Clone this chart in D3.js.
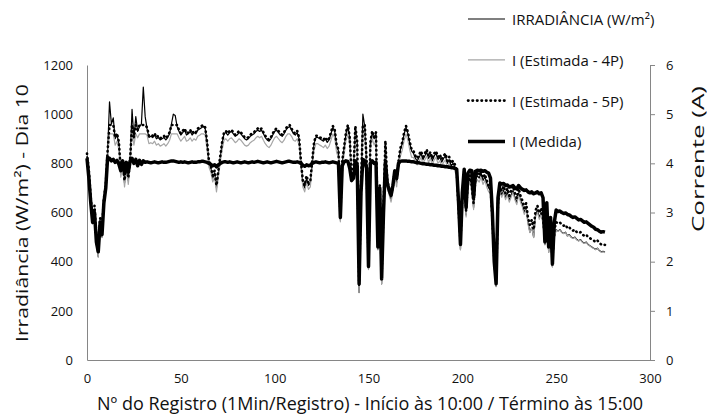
<!DOCTYPE html>
<html>
<head>
<meta charset="utf-8">
<script src="https://cdn.jsdelivr.net/npm/d3@7"></script>
<style>
  body { margin: 0; background: #fff; }
  svg text { font-family: "Open Sans", sans-serif; fill: #111; }
</style>
</head>
<body>
<svg id="chart" width="707" height="417"></svg>
<script>
// register number, 1 per minute
var registros = d3.range(0, 277);

// irradiance W/m2 (left axis)
var irradiancia = [
  830,760,640,560,610,470,420,560,500,640,700,850,1050,960,985,900,915,880,760,800,
  720,790,730,810,1020,900,990,930,950,960,1110,990,940,905,910,905,915,900,905,895,
  900,905,895,905,920,960,1000,995,950,930,915,925,935,915,920,930,915,925,920,935,
  940,945,950,940,880,800,780,740,760,700,760,820,880,920,925,915,925,930,920,910,
  915,925,920,910,900,895,900,910,915,920,930,935,930,935,920,905,895,890,900,915,
  930,935,925,915,910,920,935,945,950,935,920,915,925,900,800,720,700,740,710,720,
  800,880,905,905,900,895,890,900,885,895,920,945,930,870,850,570,800,860,920,955,
  900,740,760,945,880,275,700,1000,950,800,370,880,925,900,920,450,700,310,600,885,
  720,680,650,700,760,720,800,855,880,920,945,920,880,850,840,820,810,825,840,815,
  830,845,820,835,810,830,840,815,825,805,820,830,800,815,790,800,785,760,600,450,
  650,760,590,720,740,700,620,730,750,740,760,730,745,720,700,690,560,380,300,620,
  700,670,690,660,680,650,670,690,660,640,680,650,630,600,620,560,520,540,500,590,
  610,580,600,560,470,580,440,520,380,500,530,525,530,520,515,520,505,510,500,495,
  500,490,485,490,480,475,480,470,465,460,455,450,455,445,440,442,438
];

// estimated current, 4 parameter model (A, right axis)
var estimada4P = [
  4.07,3.72,3.16,2.76,3.01,2.34,2.09,2.76,2.49,3.16,3.42,4.12,4.60,4.60,4.60,4.37,4.45,4.27,3.72,3.92,
  3.52,3.87,3.57,3.97,4.60,4.37,4.60,4.52,4.60,4.60,4.60,4.60,4.57,4.40,4.42,4.40,4.45,4.37,4.40,4.35,
  4.37,4.40,4.35,4.40,4.47,4.60,4.60,4.60,4.60,4.52,4.45,4.50,4.55,4.45,4.47,4.52,4.45,4.50,4.47,4.55,
  4.57,4.60,4.60,4.57,4.27,3.92,3.82,3.62,3.72,3.42,3.72,4.02,4.27,4.47,4.50,4.45,4.50,4.52,4.47,4.42,
  4.45,4.50,4.47,4.42,4.37,4.35,4.37,4.42,4.45,4.47,4.52,4.55,4.52,4.55,4.47,4.40,4.35,4.32,4.37,4.45,
  4.52,4.55,4.50,4.45,4.42,4.47,4.55,4.60,4.60,4.55,4.47,4.45,4.50,4.37,3.92,3.52,3.42,3.62,3.47,3.52,
  3.92,4.27,4.40,4.40,4.37,4.35,4.32,4.37,4.30,4.35,4.47,4.60,4.52,4.22,4.12,2.81,3.92,4.17,4.47,4.60,
  4.37,3.62,3.72,4.60,4.27,1.37,3.42,4.60,4.60,3.92,1.84,4.27,4.50,4.37,4.47,2.24,3.42,1.54,2.96,4.30,
  3.52,3.36,3.21,3.42,3.72,3.52,3.92,4.15,4.27,4.47,4.60,4.47,4.27,4.12,4.12,4.02,3.97,4.05,4.12,4.00,
  4.07,4.15,4.02,4.10,3.97,4.07,4.12,4.00,4.05,3.95,4.02,4.07,3.92,4.00,3.87,3.92,3.85,3.72,2.96,2.24,
  3.21,3.72,2.91,3.52,3.62,3.42,3.06,3.57,3.67,3.62,3.72,3.57,3.65,3.52,3.42,3.41,2.76,1.89,1.49,3.06,
  3.42,3.31,3.41,3.26,3.36,3.21,3.31,3.41,3.26,3.16,3.36,3.21,3.11,2.96,3.06,2.76,2.59,2.69,2.49,2.91,
  3.01,2.86,2.96,2.76,2.34,2.86,2.19,2.59,1.89,2.49,2.64,2.62,2.64,2.59,2.57,2.59,2.52,2.54,2.49,2.47,
  2.49,2.44,2.42,2.44,2.39,2.37,2.39,2.34,2.32,2.29,2.27,2.24,2.27,2.22,2.19,2.20,2.18
];

// estimated current, 5 parameter model (A, right axis)
var estimada5P = [
  4.20,3.85,3.29,2.89,3.14,2.50,2.25,2.89,2.65,3.29,3.55,4.27,4.78,4.78,4.78,4.53,4.61,4.43,3.85,4.05,
  3.65,4.00,3.70,4.10,4.78,4.53,4.78,4.68,4.78,4.78,4.78,4.78,4.73,4.56,4.58,4.56,4.61,4.53,4.56,4.51,
  4.53,4.56,4.51,4.56,4.63,4.78,4.78,4.78,4.78,4.68,4.61,4.66,4.71,4.61,4.63,4.68,4.61,4.66,4.63,4.71,
  4.73,4.76,4.78,4.73,4.43,4.05,3.95,3.75,3.85,3.55,3.85,4.15,4.43,4.63,4.66,4.61,4.66,4.68,4.63,4.58,
  4.61,4.66,4.63,4.58,4.53,4.51,4.53,4.58,4.61,4.63,4.68,4.71,4.68,4.71,4.63,4.56,4.51,4.48,4.53,4.61,
  4.68,4.71,4.66,4.61,4.58,4.63,4.71,4.76,4.78,4.71,4.63,4.61,4.66,4.53,4.05,3.65,3.55,3.75,3.60,3.65,
  4.05,4.43,4.56,4.56,4.53,4.51,4.48,4.53,4.46,4.51,4.63,4.76,4.68,4.38,4.28,2.94,4.05,4.33,4.63,4.78,
  4.53,3.75,3.85,4.76,4.43,1.53,3.55,4.78,4.78,4.05,2.00,4.43,4.66,4.53,4.63,2.40,3.55,1.70,3.09,4.46,
  3.65,3.49,3.34,3.55,3.85,3.65,4.05,4.31,4.43,4.63,4.76,4.63,4.43,4.28,4.25,4.15,4.10,4.18,4.25,4.13,
  4.20,4.28,4.15,4.23,4.10,4.20,4.25,4.13,4.18,4.08,4.15,4.20,4.05,4.13,4.00,4.05,3.98,3.85,3.09,2.40,
  3.34,3.85,3.04,3.65,3.75,3.55,3.19,3.70,3.80,3.75,3.85,3.70,3.78,3.65,3.55,3.54,2.89,2.05,1.65,3.19,
  3.55,3.44,3.54,3.39,3.49,3.34,3.44,3.54,3.39,3.29,3.49,3.34,3.24,3.09,3.19,2.89,2.75,2.85,2.65,3.04,
  3.14,2.99,3.09,2.89,2.50,2.99,2.35,2.75,2.05,2.65,2.80,2.78,2.80,2.75,2.73,2.75,2.68,2.70,2.65,2.63,
  2.65,2.60,2.58,2.60,2.55,2.53,2.55,2.50,2.48,2.45,2.43,2.40,2.43,2.38,2.35,2.36,2.34
];

// measured current (A, right axis)
var medida = [
  4.10,3.70,3.20,2.80,3.00,2.40,2.20,2.80,2.55,3.20,3.50,4.12,4.10,4.05,4.08,4.02,4.06,3.98,3.85,4.05,
  3.80,4.02,3.82,4.05,4.10,4.00,4.08,3.95,4.06,3.98,4.05,4.02,4.03,4.02,4.01,4.02,4.03,4.02,4.01,4.02,
  4.03,4.02,4.02,4.03,4.04,4.05,4.05,4.04,4.03,4.02,4.03,4.02,4.03,4.02,4.01,4.02,4.03,4.02,4.02,4.03,
  4.03,4.04,4.04,4.03,4.02,4.00,3.98,3.95,3.97,3.93,3.97,4.00,4.02,4.03,4.03,4.02,4.03,4.02,4.01,4.02,
  4.03,4.02,4.01,4.02,4.03,4.02,4.01,4.02,4.03,4.02,4.03,4.04,4.03,4.02,4.01,4.02,4.03,4.02,4.01,4.02,
  4.03,4.04,4.03,4.02,4.01,4.02,4.03,4.04,4.04,4.03,4.02,4.02,4.03,4.02,4.00,3.96,3.94,3.97,3.95,3.96,
  4.00,4.02,4.03,4.02,4.01,4.02,4.02,4.03,4.02,4.01,4.02,4.03,4.02,4.01,4.00,2.90,3.95,4.03,4.05,4.04,
  3.90,3.65,3.70,4.05,3.95,1.55,3.40,4.08,4.05,3.90,1.90,4.00,4.05,4.00,4.02,2.30,3.50,1.65,3.00,4.02,
  3.60,3.45,3.35,3.55,3.85,3.70,4.00,4.04,4.05,4.05,4.05,4.04,4.04,4.03,4.03,4.02,4.01,4.01,4.00,3.99,
  3.99,3.98,3.98,3.97,3.97,3.96,3.96,3.95,3.95,3.94,3.94,3.93,3.93,3.92,3.92,3.91,3.90,3.88,3.20,2.35,
  3.40,3.88,3.10,3.80,3.86,3.85,3.30,3.84,3.86,3.85,3.86,3.84,3.85,3.82,3.80,3.70,3.00,2.00,1.55,3.30,
  3.60,3.58,3.59,3.55,3.56,3.52,3.53,3.55,3.50,3.48,3.55,3.50,3.47,3.45,3.46,3.42,3.40,3.42,3.38,3.40,
  3.42,3.38,3.40,3.30,2.40,3.20,2.30,2.90,1.95,2.80,3.05,3.02,3.03,3.00,2.98,2.99,2.96,2.95,2.92,2.90,
  2.91,2.88,2.85,2.86,2.83,2.80,2.81,2.78,2.75,2.72,2.70,2.66,2.65,2.62,2.60,2.61,2.60
];

var xTicks = [0, 50, 100, 150, 200, 250, 300];
var yLeftTicks = [0, 200, 400, 600, 800, 1000, 1200];
var yRightTicks = [0, 1, 2, 3, 4, 5, 6];

var svg = d3.select("#chart");

var x = d3.scaleLinear().domain([0, 300]).range([87, 650]);
var yL = d3.scaleLinear().domain([0, 1200]).range([360, 65]);
var yR = d3.scaleLinear().domain([0, 6]).range([360, 65]);

var axisColor = "#868686";

// left axis
var gLeft = svg.append("g").attr("transform", "translate(87,0)")
  .call(d3.axisLeft(yL).tickValues(yLeftTicks).tickFormat(d3.format("d")).tickSize(0).tickPadding(14));
gLeft.select(".domain").attr("stroke", axisColor);
gLeft.selectAll("text").attr("font-size", 13).attr("fill", "#111")
  .attr("font-family", "Open Sans");

// right axis
var gRight = svg.append("g").attr("transform", "translate(650,0)")
  .call(d3.axisRight(yR).tickValues(yRightTicks).tickFormat(d3.format("d")).tickSize(5).tickSizeOuter(0).tickPadding(11));
gRight.select(".domain").attr("stroke", axisColor);
gRight.selectAll("line").attr("stroke", axisColor);
gRight.selectAll("text").attr("font-size", 13).attr("fill", "#111")
  .attr("font-family", "Open Sans");

// bottom axis
var gBottom = svg.append("g").attr("transform", "translate(0,360)")
  .call(d3.axisBottom(x).tickValues(xTicks).tickSize(0).tickPadding(14));
gBottom.select(".domain").attr("stroke", axisColor);
gBottom.selectAll("text").attr("font-size", 13).attr("fill", "#111")
  .attr("font-family", "Open Sans");

// axis titles (rotated ones are stretched along their length, as in the original)
svg.append("text")
  .attr("transform", "translate(21,213) rotate(-90)")
  .attr("text-anchor", "middle")
  .attr("dominant-baseline", "central")
  .attr("font-size", 17)
  .attr("textLength", 258)
  .attr("lengthAdjust", "spacingAndGlyphs")
  .text("Irradiância (W/m²) - Dia 10");

svg.append("text")
  .attr("transform", "translate(697,159) rotate(-90)")
  .attr("text-anchor", "middle")
  .attr("dominant-baseline", "central")
  .attr("font-size", 17)
  .attr("textLength", 146)
  .attr("lengthAdjust", "spacingAndGlyphs")
  .text("Corrente (A)");

svg.append("text")
  .attr("x", 370)
  .attr("y", 403)
  .attr("text-anchor", "middle")
  .attr("dominant-baseline", "central")
  .attr("font-size", 17.5)
  .attr("textLength", 546)
  .attr("lengthAdjust", "spacingAndGlyphs")
  .text("Nº do Registro (1Min/Registro) - Início às 10:00  / Término às 15:00");

// series
var series = [
  {name: "IRRADIÂNCIA (W/m²)", values: irradiancia, y: yL, stroke: "#000", width: 1.2, dash: null},
  {name: "I (Estimada - 4P)", values: estimada4P, y: yR, stroke: "#a6a6a6", width: 1.2, dash: null},
  {name: "I (Estimada - 5P)", values: estimada5P, y: yR, stroke: "#000", width: 2.6, dash: "0.5,4"},
  {name: "I (Medida)", values: medida, y: yR, stroke: "#000", width: 3.5, dash: null}
];

series.forEach(function(s) {
  var line = d3.line()
    .x(function(d, i) { return x(registros[i]); })
    .y(function(d) { return s.y(d); });
  svg.append("path")
    .datum(s.values)
    .attr("fill", "none")
    .attr("stroke", s.stroke)
    .attr("stroke-width", s.width)
    .attr("stroke-linejoin", "round")
    .attr("stroke-linecap", s.dash ? "round" : "butt")
    .attr("stroke-dasharray", s.dash)
    .attr("d", line);
});

// legend
var legend = svg.append("g")
  .selectAll("g")
  .data(series)
  .enter().append("g")
    .attr("transform", function(d, i) { return "translate(0," + (19 + i * 40.8) + ")"; });

legend.append("line")
  .attr("x1", 468).attr("x2", 505)
  .attr("stroke", function(d) { return d.stroke; })
  .attr("stroke-width", function(d) { return d.width; })
  .attr("stroke-linecap", function(d) { return d.dash ? "round" : "butt"; })
  .attr("stroke-dasharray", function(d) { return d.dash; });

legend.append("text")
  .attr("x", 512)
  .attr("dominant-baseline", "central")
  .attr("font-size", 15)
  .text(function(d) { return d.name; });
</script>
</body>
</html>
